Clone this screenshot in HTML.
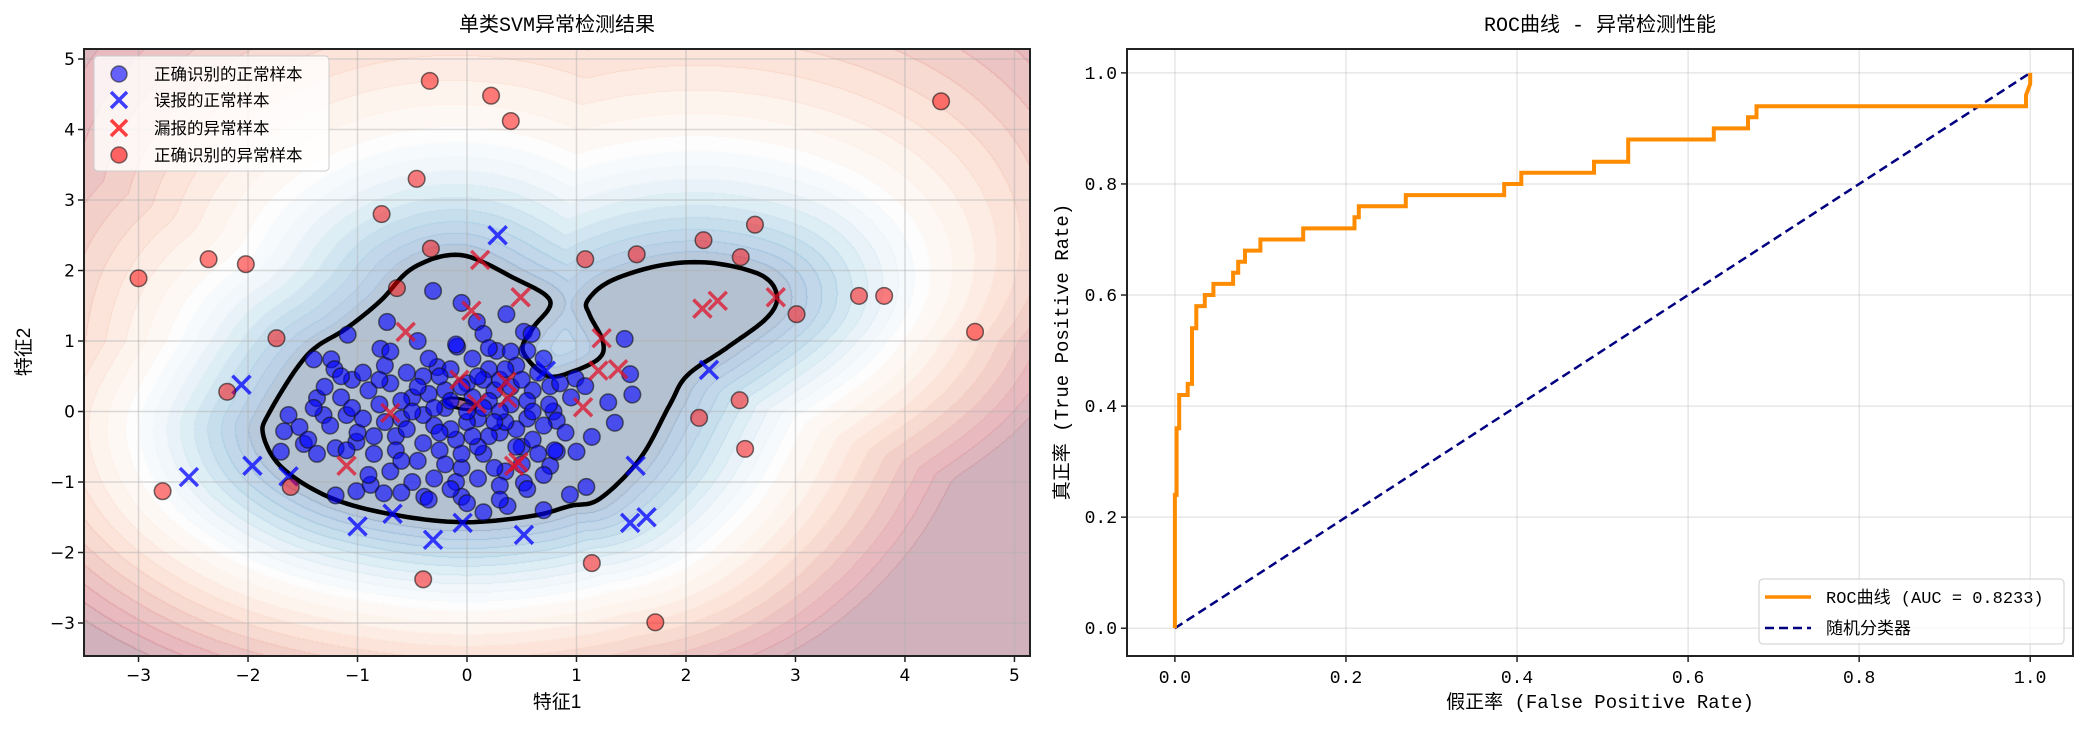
<!DOCTYPE html>
<html><head><meta charset="utf-8">
<style>
html,body{margin:0;padding:0;background:#fff;}
#wrap{position:relative;width:2082px;height:729px;overflow:hidden;}
#bg{position:absolute;left:84px;top:49px;}
svg{position:absolute;left:0;top:0;}
text{font-family:"DejaVu Sans","Noto Sans CJK SC",sans-serif;}
.cj{font-family:"Liberation Sans","Noto Sans CJK SC",sans-serif;}
.mono{font-family:"Liberation Mono","Noto Sans CJK SC",monospace;}
</style></head>
<body>
<div id="wrap">
<canvas id="bg" width="946" height="607"></canvas>
<svg id="s" width="2082" height="729" xmlns="http://www.w3.org/2000/svg">
<text class="mono" x="557" y="31" font-size="20" text-anchor="middle">单类SVM异常检测结果</text>
<text class="mono" x="1600" y="31" font-size="20" text-anchor="middle">ROC曲线 - 异常检测性能</text>
<text class="cj" x="557" y="708" font-size="19" text-anchor="middle">特征1</text>
<text class="cj" x="0" y="0" font-size="19" text-anchor="middle" transform="translate(30,352) rotate(-90)">特征2</text>
<text class="mono" x="1600" y="708" font-size="19" text-anchor="middle">假正率 (False Positive Rate)</text>
<text class="mono" x="0" y="0" font-size="19" text-anchor="middle" transform="translate(1068,352) rotate(-90)">真正率 (True Positive Rate)</text>
<g id="lgrid"></g><g id="lbound"></g><g id="lpts"></g><g id="laxes"></g>
<g id="rgrid"></g><g id="rlines"></g><g id="raxes"></g>
<g>
<rect x="94" y="56" width="235" height="115" rx="4" fill="#fff" fill-opacity="0.8" stroke="#ccc"/>
<circle cx="119" cy="74" r="8" fill="blue" fill-opacity="0.6" stroke="#222" stroke-opacity="0.6" stroke-width="1.5"/>
<text class="cj" x="154" y="80" font-size="16.5">正确识别的正常样本</text>
<path d="M111,92 L127,108 M127,92 L111,108" stroke="blue" stroke-opacity="0.75" stroke-width="3.5"/>
<text class="cj" x="154" y="106" font-size="16.5">误报的正常样本</text>
<path d="M111,120 L127,136 M127,120 L111,136" stroke="red" stroke-opacity="0.75" stroke-width="3.5"/>
<text class="cj" x="154" y="134" font-size="16.5">漏报的异常样本</text>
<circle cx="119" cy="155" r="8" fill="red" fill-opacity="0.6" stroke="#222" stroke-opacity="0.6" stroke-width="1.5"/>
<text class="cj" x="154" y="161" font-size="16.5">正确识别的异常样本</text>
</g>
<g>
<rect x="1759" y="579" width="305" height="65" rx="4" fill="#fff" fill-opacity="0.8" stroke="#ccc"/>
<line x1="1765" y1="597" x2="1811" y2="597" stroke="#ff8c00" stroke-width="3.5"/>
<text class="mono" x="1826" y="603" font-size="17">ROC曲线 (AUC = 0.8233)</text>
<line x1="1765" y1="628" x2="1811" y2="628" stroke="#000080" stroke-width="2.5" stroke-dasharray="9,5"/>
<text class="mono" x="1826" y="634" font-size="17">随机分类器</text>
</g>
</svg>
</div>
<script>
// ---------- data ----------
const normalCorrect=[[-0.31,1.71],[-0.73,1.27],[-1.09,1.09],[-0.79,0.89],[-0.05,1.54],[0.36,1.38],[0.09,1.27],[0.15,1.10],[0.52,1.13],[0.59,1.10],[-1.40,0.74],[-1.24,0.74],[-1.21,0.60],[-1.05,0.45],[-1.37,0.19],[-1.63,-0.05],[-1.67,-0.28],[-1.53,-0.22],[-1.70,-0.57],[-1.49,-0.46],[-1.31,-0.05],[-1.10,-0.05],[-1.37,-0.60],[-1.20,-0.52],[-1.01,-0.43],[-1.20,-1.19],[-1.01,-1.13],[-0.88,-1.04],[-0.76,-1.16],[-0.39,-1.21],[-0.05,-1.21],[0.15,-1.43],[0.37,-1.34],[0.70,-1.40],[0.52,-1.01],[0.76,-0.77],[0.82,-0.57],[0.79,0.0],[0.82,-0.13],[0.76,0.36],[0.55,0.86],[0.27,0.86],[-0.09,0.92],[-0.27,0.63],[1.44,1.03],[1.49,0.53],[1.51,0.24],[1.29,0.13],[1.35,-0.16],[1.14,-0.36],[1.0,-0.57],[1.09,-1.07],[0.94,-1.18],[0.99,0.47],[1.08,0.36],
[-0.9,0.3],[-0.8,0.1],[-0.7,0.4],[-0.6,-0.1],[-0.5,0.2],[-0.4,0.5],[-0.3,-0.2],[-0.2,0.3],[-0.1,-0.4],[0.0,0.4],[0.1,-0.1],[0.2,0.6],[0.3,-0.3],[0.4,0.1],[0.5,-0.5],[0.6,0.3],[0.7,-0.2],[-1.0,-0.3],[-0.85,-0.6],[-0.65,-0.35],[-0.45,-0.7],[-0.25,-0.55],[-0.05,-0.8],[0.15,-0.6],[0.35,-0.85],[0.55,-0.1],[0.65,0.55],[0.45,0.65],[0.25,0.3],[0.05,0.75],[-0.15,0.6],[-0.35,0.75],[-0.55,0.55],[-0.75,0.65],[-0.95,0.55],[-1.15,0.2],[-1.25,-0.2],[-1.05,0.05],[-0.6,0.15],[-0.4,-0.05],[-0.2,0.05],[0.0,-0.15],[0.2,0.15],[0.3,0.45],[0.45,-0.25],[0.6,-0.4],[0.75,0.1],[0.85,0.4],[-0.1,-1.0],[0.1,-0.95],[0.3,-1.05],[-0.3,-0.95],[-0.5,-1.0],[-0.7,-0.85],[-0.9,-0.9],[-0.35,0.25],[-0.15,-0.25],[0.05,0.2],[0.15,0.45],[0.35,-0.15],[-0.55,-0.25],[-0.75,-0.15],[-0.45,0.35],[-0.25,0.5],[0.1,0.5],[0.4,0.35],[0.55,0.15],[0.65,-0.6],[0.5,-0.75],[0.2,-0.35],[-0.05,-0.6],[-0.2,-0.75],[-0.4,-0.45],[-0.65,-0.55],[-0.85,-0.35],[-1.1,-0.55],[-1.3,0.35],[-1.15,0.5],[0.9,-0.3],[0.95,0.2],[0.25,-0.8],[-0.1,0.95],[0.2,0.9],[-0.45,1.0],[0.4,0.85],[0.1,-0.5],[-0.3,0.05],[0.3,0.0],[-0.7,0.85],[0.7,0.75],[-0.95,-0.1],[-0.6,-0.7],[0.45,-0.5],[0.0,0.0],[0.05,-0.35],[-0.15,0.15],[0.25,-0.15],[0.6,0.0],[-0.5,0.0],[0.8,-0.55],[-0.25,-0.3],[0.35,0.6],[-0.8,0.45],[-1.45,-0.4],[-1.4,0.05],[0.15,0.05],[-0.05,0.35],[0.5,0.45],[0.7,-0.9],[-0.15,-1.1],[0.55,-1.1],[-0.6,-1.15],[0.0,-1.3],[-0.35,-1.25],[0.3,-1.25]];
const falsePositive=[[0.28,2.50],[-2.06,0.38],[-2.54,-0.93],[-1.96,-0.77],[-1.63,-0.92],[-1.0,-1.63],[-0.68,-1.45],[-0.31,-1.82],[-0.04,-1.58],[0.52,-1.75],[0.72,0.58],[2.21,0.59],[1.54,-0.77],[1.49,-1.58],[1.64,-1.50]];
const falseNegative=[[0.12,2.15],[0.49,1.62],[0.04,1.43],[-0.56,1.13],[-0.07,0.45],[0.36,0.42],[0.37,0.19],[0.09,0.11],[-0.70,-0.02],[-1.10,-0.77],[0.43,-0.77],[0.47,-0.72],[1.23,1.04],[1.20,0.58],[1.38,0.60],[1.06,0.06],[2.15,1.46],[2.29,1.57],[2.82,1.62]];
const anomalyCorrect=[[-0.34,4.69],[0.22,4.48],[0.40,4.12],[-0.46,3.30],[-0.78,2.80],[-0.33,2.31],[-2.36,2.16],[-2.02,2.09],[-3.00,1.89],[-0.64,1.75],[-1.74,1.04],[-2.19,0.28],[-2.78,-1.13],[-1.61,-1.07],[-0.40,-2.38],[1.08,2.16],[1.55,2.23],[2.16,2.43],[2.63,2.65],[2.50,2.19],[3.58,1.64],[3.81,1.64],[3.01,1.38],[4.33,4.40],[4.64,1.13],[2.49,0.16],[2.12,-0.09],[2.54,-0.53],[1.14,-2.15],[1.72,-2.99]];
const boundaryX=[-0.06,0.42,0.76,0.60,0.51,0.73,0.97,1.21,1.24,1.12,1.10,1.31,1.76,2.22,2.68,2.83,2.74,2.37,2.01,1.85,1.58,1.21,0.94,0.60,0,-0.61,-1.22,-1.68,-1.86,-1.80,-1.46,-1.10,-0.79,-0.49];
const boundaryY=[2.22,1.90,1.57,1.18,0.86,0.51,0.57,0.76,1.0,1.37,1.57,1.85,2.07,2.11,1.94,1.65,1.33,0.90,0.51,0.09,-0.67,-1.24,-1.34,-1.48,-1.57,-1.48,-1.24,-0.81,-0.34,0.0,0.80,1.18,1.57,2.04];
const xTicksL=[-3,-2,-1,0,1,2,3,4,5];
const yTicksL=[-3,-2,-1,0,1,2,3,4,5];
const rocFpr=[0,0,0.002,0.002,0.005,0.005,0.015,0.015,0.02,0.02,0.025,0.025,0.035,0.035,0.045,0.045,0.068,0.068,0.074,0.074,0.082,0.082,0.1,0.1,0.15,0.15,0.21,0.21,0.215,0.215,0.27,0.27,0.385,0.385,0.405,0.405,0.49,0.49,0.53,0.53,0.63,0.63,0.67,0.67,0.68,0.68,0.995,0.995,1,1];
const rocTpr=[0,0.24,0.24,0.36,0.36,0.42,0.42,0.44,0.44,0.54,0.54,0.58,0.58,0.60,0.60,0.62,0.62,0.64,0.64,0.66,0.66,0.68,0.68,0.70,0.70,0.72,0.72,0.74,0.74,0.76,0.76,0.78,0.78,0.80,0.80,0.82,0.82,0.84,0.84,0.88,0.88,0.90,0.90,0.92,0.92,0.94,0.94,0.96,0.98,1.0];
const rTicks=[0,0.2,0.4,0.6,0.8,1.0];
const rTickLabels=["0.0","0.2","0.4","0.6","0.8","1.0"];

// ---------- scales ----------
const L={x0:84,x1:1030,y0:49,y1:656,xmin:-3.498,xmax:5.142,ymin:-3.468,ymax:5.142};
const R={x0:1127,x1:2073,y0:49,y1:656,xmin:-0.056,xmax:1.05,ymin:-0.05,ymax:1.043};
function sx(a,v){return a.x0+(v-a.xmin)/(a.xmax-a.xmin)*(a.x1-a.x0);}
function sy(a,v){return a.y1-(v-a.ymin)/(a.ymax-a.ymin)*(a.y1-a.y0);}
const NS="http://www.w3.org/2000/svg";
function mk(tag,attrs,parent){const e=document.createElementNS(NS,tag);for(const k in attrs)e.setAttribute(k,attrs[k]);parent.appendChild(e);return e;}

// ---------- boundary curve (catmull-rom) ----------
const curve=[];
const nB=boundaryX.length;
for(let i=0;i<nB;i++){
  const p0=[boundaryX[(i-1+nB)%nB],boundaryY[(i-1+nB)%nB]],p1=[boundaryX[i],boundaryY[i]],
        p2=[boundaryX[(i+1)%nB],boundaryY[(i+1)%nB]],p3=[boundaryX[(i+2)%nB],boundaryY[(i+2)%nB]];
  for(let s=0;s<10;s++){const t=s/10,t2=t*t,t3=t2*t;
    const f=(a,b,c,d)=>0.5*((2*b)+(-a+c)*t+(2*a-5*b+4*c-d)*t2+(-a+3*b-3*c+d)*t3);
    curve.push([f(p0[0],p1[0],p2[0],p3[0]),f(p0[1],p1[1],p2[1],p3[1])]);}
}
// ---------- background field ----------
(function(){
  const cv=document.getElementById('bg'),ctx=cv.getContext('2d');
  const W=946,H=607,st=4,gx=Math.ceil(W/st)+2,gy=Math.ceil(H/st)+2;
  const G=new Float32Array(gx*gy);const n=curve.length;
  for(let j=0;j<gy;j++)for(let i=0;i<gx;i++){
    const x=L.xmin+(i*st)/W*(L.xmax-L.xmin),y=L.ymax-(j*st)/H*(L.ymax-L.ymin);
    let md=1e9,inside=false;
    for(let k=0;k<n;k++){const a=curve[k],b=curve[(k+1)%n];
      const dx=b[0]-a[0],dy=b[1]-a[1];let t=((x-a[0])*dx+(y-a[1])*dy)/(dx*dx+dy*dy);t=Math.max(0,Math.min(1,t));
      const ex=a[0]+t*dx-x,ey=a[1]+t*dy-y,d=ex*ex+ey*ey;if(d<md)md=d;
      if(((a[1]>y)!=(b[1]>y))&&(x<(b[0]-a[0])*(y-a[1])/(b[1]-a[1])+a[0]))inside=!inside;}
    const k=1+0.15*Math.max(0,y-1);
    G[j*gx+i]=inside?-Math.sqrt(md):Math.sqrt(md)/k;
  }
  const cm=[[103,0,31],[178,24,43],[214,96,77],[244,165,130],[253,219,199],[247,247,247],[209,229,240],[146,197,222],[67,147,195],[33,102,172],[5,48,97]];
  function cmap(u){u=Math.max(0,Math.min(1,u))*10;const i=Math.min(9,Math.floor(u)),f=u-i;return [0,1,2].map(c=>cm[i][c]+(cm[i+1][c]-cm[i][c])*f);}
  const NB=20,Wd=1.25,Rr=1.7;
  const band=new Int16Array(W*H);
  for(let y=0;y<H;y++)for(let x=0;x<W;x++){
    const fx=x/st,fy=y/st,i=Math.floor(fx),j=Math.floor(fy),tx=fx-i,ty=fy-j;
    const d=G[j*gx+i]*(1-tx)*(1-ty)+G[j*gx+i+1]*tx*(1-ty)+G[(j+1)*gx+i]*(1-tx)*ty+G[(j+1)*gx+i+1]*tx*ty;
    let u;
    if(d<=0)u=1;else if(d<=Wd)u=1-0.5*d/Wd;else u=Math.max(0,0.5-0.5*(d-Wd)/Rr);
    band[y*W+x]=d<=0?0:Math.max(1,Math.min(NB,Math.ceil((1-u)*NB)));
  }
  const img=ctx.createImageData(W,H);
  for(let y=0;y<H;y++)for(let x=0;x<W;x++){
    const b=band[y*W+x];const c=cmap(1-b/NB);
    let a=0.3;
    if((x<W-1&&band[y*W+x+1]!=b)||(y<H-1&&band[(y+1)*W+x]!=b))a=0.42;
    const p=(y*W+x)*4;
    img.data[p]=255*(1-a)+c[0]*a;img.data[p+1]=255*(1-a)+c[1]*a;img.data[p+2]=255*(1-a)+c[2]*a;img.data[p+3]=255;
  }
  ctx.putImageData(img,0,0);
})();

// ---------- left grid ----------
const lg=document.getElementById('lgrid');
xTicksL.forEach(v=>{const l=mk('line',{x1:sx(L,v),x2:sx(L,v),y1:L.y0,y2:L.y1,stroke:'#b0b0b0','stroke-opacity':0.45,'stroke-width':1.5},lg);

});
yTicksL.forEach(v=>{const l=mk('line',{x1:L.x0,x2:L.x1,y1:sy(L,v),y2:sy(L,v),stroke:'#b0b0b0','stroke-opacity':0.45,'stroke-width':1.5},lg);

});

// ---------- boundary ----------
const lb=document.getElementById('lbound');
let dstr=curve.map((p,i)=>(i?'L':'M')+sx(L,p[0]).toFixed(1)+','+sy(L,p[1]).toFixed(1)).join('')+'Z';
const bp=mk('path',{d:dstr,fill:'none',stroke:'#000','stroke-width':4.5,'stroke-linejoin':'round'},lb);


const ie=mk('ellipse',{cx:sx(L,-0.06),cy:sy(L,0.11),rx:16,ry:5,fill:'#9a2f6a','fill-opacity':0.6,stroke:'#000','stroke-width':3,transform:'rotate(12 '+sx(L,-0.06)+' '+sy(L,0.11)+')'},lb);



// ---------- points ----------
const lp=document.getElementById('lpts');
normalCorrect.forEach(p=>{const c=mk('circle',{cx:sx(L,p[0]),cy:sy(L,p[1]),r:8.3,fill:'blue','fill-opacity':0.6,stroke:'#111','stroke-opacity':0.6,'stroke-width':1.5},lp);

});
function cross(p,col,name){const x=sx(L,p[0]),y=sy(L,p[1]),s=9;
  const e=mk('path',{d:`M${x-s},${y-s}L${x+s},${y+s}M${x+s},${y-s}L${x-s},${y+s}`,stroke:col,'stroke-opacity':0.75,'stroke-width':3.5},lp);
  
  }
falsePositive.forEach(p=>cross(p,'blue','false-positive-point'));
falseNegative.forEach(p=>cross(p,'#e0102a','false-negative-point'));
anomalyCorrect.forEach(p=>{const c=mk('circle',{cx:sx(L,p[0]),cy:sy(L,p[1]),r:8.3,fill:'red','fill-opacity':0.5,stroke:'#111','stroke-opacity':0.6,'stroke-width':1.5},lp);

});

// ---------- left axes ----------
const la=document.getElementById('laxes');
const lf=mk('rect',{x:L.x0,y:L.y0,width:L.x1-L.x0,height:L.y1-L.y0,fill:'none',stroke:'#222','stroke-width':2},la);


xTicksL.forEach(v=>{const x=sx(L,v);mk('line',{x1:x,x2:x,y1:L.y1,y2:L.y1+6,stroke:'#222','stroke-width':1.5},la);
const t=mk('text',{x:x,y:L.y1+25,'font-size':17,'text-anchor':'middle'},la);t.textContent=(v<0?'\u2212':'')+Math.abs(v);

});
yTicksL.forEach(v=>{const y=sy(L,v);mk('line',{x1:L.x0-6,x2:L.x0,y1:y,y2:y,stroke:'#222','stroke-width':1.5},la);
const t=mk('text',{x:L.x0-9,y:y+6,'font-size':17,'text-anchor':'end'},la);t.textContent=(v<0?'\u2212':'')+Math.abs(v);

});

// ---------- right ----------
const rg=document.getElementById('rgrid');
rTicks.forEach(v=>{
 const a=mk('line',{x1:sx(R,v),x2:sx(R,v),y1:R.y0,y2:R.y1,stroke:'#b0b0b0','stroke-opacity':0.3,'stroke-width':1.5},rg);
 
 
 const b=mk('line',{x1:R.x0,x2:R.x1,y1:sy(R,v),y2:sy(R,v),stroke:'#b0b0b0','stroke-opacity':0.3,'stroke-width':1.5},rg);
 
 });
const rl=document.getElementById('rlines');
const diag=mk('line',{x1:sx(R,0),y1:sy(R,0),x2:sx(R,1),y2:sy(R,1),stroke:'#000080','stroke-width':2.5,'stroke-dasharray':'9,5'},rl);


const roc=mk('polyline',{points:rocFpr.map((f,i)=>sx(R,f).toFixed(1)+','+sy(R,rocTpr[i]).toFixed(1)).join(' '),fill:'none',stroke:'#ff8c00','stroke-width':4,'stroke-linejoin':'miter'},rl);


const ra=document.getElementById('raxes');
const rf=mk('rect',{x:R.x0,y:R.y0,width:R.x1-R.x0,height:R.y1-R.y0,fill:'none',stroke:'#222','stroke-width':2},ra);


rTicks.forEach((v,i)=>{const x=sx(R,v),y=sy(R,v);
 mk('line',{x1:x,x2:x,y1:R.y1,y2:R.y1+6,stroke:'#222','stroke-width':1.5},ra);
 const t=mk('text',{x:x,y:R.y1+27,'font-size':18,'text-anchor':'middle','class':'mono'},ra);t.textContent=rTickLabels[i];
 
 
 mk('line',{x1:R.x0-6,x2:R.x0,y1:y,y2:y,stroke:'#222','stroke-width':1.5},ra);
 const u=mk('text',{x:R.x0-10,y:y+6,'font-size':18,'text-anchor':'end','class':'mono'},ra);u.textContent=rTickLabels[i];
 
 });
</script>
</body></html>
